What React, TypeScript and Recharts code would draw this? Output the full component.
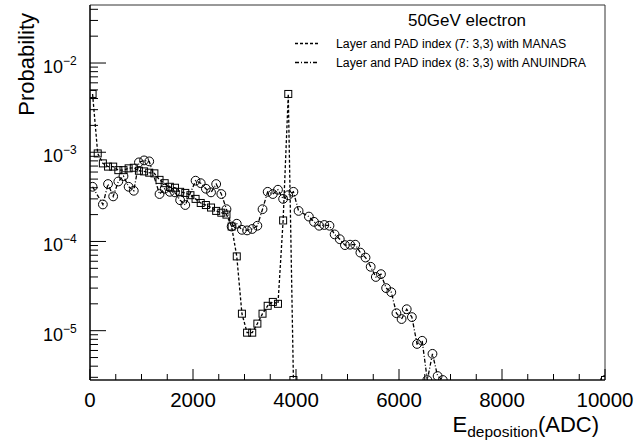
import React from "react";
import { LineChart, Line, XAxis, YAxis, ReferenceArea } from "recharts";

// bin centres (ADC) and probabilities; 0 = empty bin, drawn on the bottom edge
const manasBins = [
  50, 150, 250, 350, 450, 550, 650, 750, 850, 950, 1050, 1150, 1250, 1350, 1450, 1550, 1650, 1750, 1850, 1950,
  2050, 2150, 2250, 2350, 2450, 2550, 2650, 2750, 2850, 2950, 3050, 3150, 3250, 3350, 3450, 3550, 3650, 3750,
  3850, 3950,
];
const manasProb = [
  4.5e-3, 9.7e-4, 7.5e-4, 6.9e-4, 6.9e-4, 6.3e-4, 6.3e-4, 6.6e-4, 6.7e-4, 6.2e-4, 6.1e-4, 5.9e-4, 5.8e-4, 4.9e-4,
  4.5e-4, 4.1e-4, 4.0e-4, 3.6e-4, 3.5e-4, 3.3e-4, 3.0e-4, 2.7e-4, 2.56e-4, 2.4e-4, 2.2e-4, 2.1e-4, 2.0e-4, 1.47e-4,
  6.8e-5, 1.55e-5, 9.5e-6, 9.5e-6, 1.2e-5, 1.55e-5, 1.9e-5, 2.1e-5, 2.0e-5, 1.72e-4, 4.5e-3, 0,
];

const anuindraBins = [
  50, 250, 350, 450, 550, 650, 750, 850, 950, 1050, 1150, 1350, 1450, 1550, 1650, 1750, 1850, 2050, 2150, 2250,
  2350, 2450, 2550, 2650, 2750, 2850, 2950, 3050, 3150, 3250, 3350, 3450, 3550, 3650, 3750, 3850, 3950, 4050,
  4250, 4350, 4450, 4550, 4650, 4750, 4850, 4950, 5050, 5150, 5250, 5350, 5450, 5550, 5650, 5750, 5850, 5950,
  6050, 6150, 6250, 6350, 6450, 6550, 6650, 6750, 6850,
];
const anuindraProb = [
  4.1e-4, 2.6e-4, 4.4e-4, 3.2e-4, 4.7e-4, 5.4e-4, 4.1e-4, 3.7e-4, 7.7e-4, 8.1e-4, 7.9e-4, 3.4e-4, 3.9e-4, 3.6e-4,
  3.55e-4, 2.9e-4, 2.56e-4, 4.8e-4, 4.5e-4, 3.9e-4, 3.55e-4, 4.4e-4, 3.4e-4, 2.3e-4, 1.47e-4, 1.58e-4, 1.35e-4,
  1.33e-4, 1.38e-4, 1.5e-4, 2.3e-4, 3.6e-4, 3.4e-4, 3.8e-4, 3.0e-4, 3.3e-4, 3.6e-4, 2.2e-4, 1.9e-4, 1.66e-4,
  1.5e-4, 1.53e-4, 1.5e-4, 1.2e-4, 1.06e-4, 9.1e-5, 9.2e-5, 9.2e-5, 7.5e-5, 6.6e-5, 5.2e-5, 4.0e-5, 4.3e-5,
  3.0e-5, 2.7e-5, 1.57e-5, 1.35e-5, 1.74e-5, 1.42e-5, 7.1e-6, 7.7e-6, 0, 5.5e-6, 3.1e-6, 0,
];

const lastBin = 10000;

const Y_MIN = 2.8e-6;
const Y_MAX = 4.47e-2;

const xTicks = [0, 500, 1000, 1500, 2000, 2500, 3000, 3500, 4000, 4500, 5000, 5500, 6000, 6500, 7000, 7500, 8000, 8500, 9000, 9500, 10000];
const xLabels = [0, 2000, 4000, 6000, 8000, 10000];
const yTicks = [
  3e-6, 4e-6, 5e-6, 6e-6, 7e-6, 8e-6, 9e-6,
  1e-5, 2e-5, 3e-5, 4e-5, 5e-5, 6e-5, 7e-5, 8e-5, 9e-5,
  1e-4, 2e-4, 3e-4, 4e-4, 5e-4, 6e-4, 7e-4, 8e-4, 9e-4,
  1e-3, 2e-3, 3e-3, 4e-3, 5e-3, 6e-3, 7e-3, 8e-3, 9e-3,
  1e-2, 2e-2, 3e-2, 4e-2,
];
const yMajor = [1e-5, 1e-4, 1e-3, 1e-2];
const yExp = ["\u22125", "\u22124", "\u22123", "\u22122"];

const FONT = "'Liberation Sans', Arial, Helvetica, sans-serif";

const clip = (v: number) => (v > 0 ? v : Y_MIN);

const manasData = [
  ...manasBins.map((x, i) => ({ x, y: clip(manasProb[i]) })),
  { x: 7000, y: null },
  { x: lastBin, y: Y_MIN },
];
const anuindraData = [
  ...anuindraBins.map((x, i) => ({ x, y: clip(anuindraProb[i]) })),
  { x: 8500, y: null },
  { x: lastBin, y: Y_MIN },
];

const YTick = (props: any) => {
  const { x, y, payload } = props;
  const v = payload.value;
  const idx = yMajor.findIndex((m) => Math.abs(m - v) / m < 1e-6);
  const len = idx >= 0 ? 16 : 8;
  return (
    <g>
      <line x1={x} x2={x + len} y1={y} y2={y} stroke="#000" strokeWidth={1} />
      {idx >= 0 && (
        <text x={x - 47} y={y + 10} textAnchor="start" fontFamily={FONT} fontSize={18} fill="#000">
          <tspan>10</tspan>
          <tspan fontSize={12} dy={-8}>{yExp[idx]}</tspan>
        </text>
      )}
    </g>
  );
};

const XTick = (props: any) => {
  const { x, y, payload } = props;
  const v = payload.value;
  const major = xLabels.includes(v);
  const len = major ? 11 : 6;
  return (
    <g>
      <line x1={x} x2={x} y1={y} y2={y - len} stroke="#000" strokeWidth={1} />
      {major && (
        <text x={x} y={y + 27} textAnchor="middle" fontFamily={FONT} fontSize={20.5} fill="#000">
          {v}
        </text>
      )}
    </g>
  );
};

const squareDot = (p: any) => {
  if (p.cy == null || p.cx == null) return <g key={`s${p.index}`} />;
  return <rect key={`s${p.index}`} x={p.cx - 3.5} y={p.cy - 3.5} width={7} height={7} fill="none" stroke="#000" strokeWidth={1} />;
};

const circleDot = (p: any) => {
  if (p.cy == null || p.cx == null) return <g key={`c${p.index}`} />;
  return <circle key={`c${p.index}`} cx={p.cx} cy={p.cy} r={4.4} fill="none" stroke="#000" strokeWidth={1} />;
};

export default function App() {
  return (
    <div style={{ position: "absolute", left: 0, top: 0, width: 644, height: 448, background: "#fff" }}>
      <LineChart width={644} height={448} margin={{ top: 5, right: 39, bottom: 0, left: 0 }}>
        <XAxis
          type="number"
          dataKey="x"
          domain={[0, 10000]}
          ticks={xTicks}
          interval={0}
          height={68}
          tickSize={0}
          tickMargin={0}
          tick={<XTick />}
          axisLine={{ stroke: "#000", strokeWidth: 1.2 }}
          allowDataOverflow
        />
        <YAxis
          type="number"
          scale="log"
          domain={[Y_MIN, Y_MAX]}
          ticks={yTicks}
          interval={0}
          width={90}
          tickSize={0}
          tickMargin={0}
          tick={<YTick />}
          axisLine={{ stroke: "#000", strokeWidth: 1.2 }}
          allowDataOverflow
        />
        <ReferenceArea x1={0} x2={10000} y1={Y_MIN} y2={Y_MAX} fill="none" stroke="#333" strokeWidth={1} />
        <Line
          data={manasData}
          dataKey="y"
          type="linear"
          stroke="#000"
          strokeWidth={1.3}
          strokeDasharray="3 2"
          dot={squareDot}
          activeDot={false}
          isAnimationActive={false}
        />
        <Line
          data={anuindraData}
          dataKey="y"
          type="linear"
          stroke="#000"
          strokeWidth={1.3}
          strokeDasharray="4 2 1 2"
          dot={circleDot}
          activeDot={false}
          isAnimationActive={false}
        />
      </LineChart>
      <svg width={644} height={448} style={{ position: "absolute", left: 0, top: 0, pointerEvents: "none" }}>
        <text transform="translate(34,13) rotate(-90)" textAnchor="end" fontFamily={FONT} fontSize={22} fill="#000">
          Probability
        </text>
        <text x={599} y={432} textAnchor="end" fontFamily={FONT} fontSize={22} fill="#000">
          E<tspan fontSize={15.5} dy={5}>deposition</tspan>
          <tspan dy={-5}>(ADC)</tspan>
        </text>
        <text x={467} y={26} textAnchor="middle" fontFamily={FONT} fontSize={17} fill="#000">
          50GeV electron
        </text>
        <line x1={295} x2={318} y1={43.5} y2={43.5} stroke="#000" strokeWidth={1.3} strokeDasharray="3 2" />
        <text x={336} y={47.5} fontFamily={FONT} fontSize={12.3} fill="#000">
          Layer and PAD index (7: 3,3) with MANAS
        </text>
        <line x1={295} x2={318} y1={62.5} y2={62.5} stroke="#000" strokeWidth={1.3} strokeDasharray="4 2 1 2" />
        <text x={336} y={66.5} fontFamily={FONT} fontSize={12.3} fill="#000">
          Layer and PAD index (8: 3,3) with ANUINDRA
        </text>
      </svg>
    </div>
  );
}
